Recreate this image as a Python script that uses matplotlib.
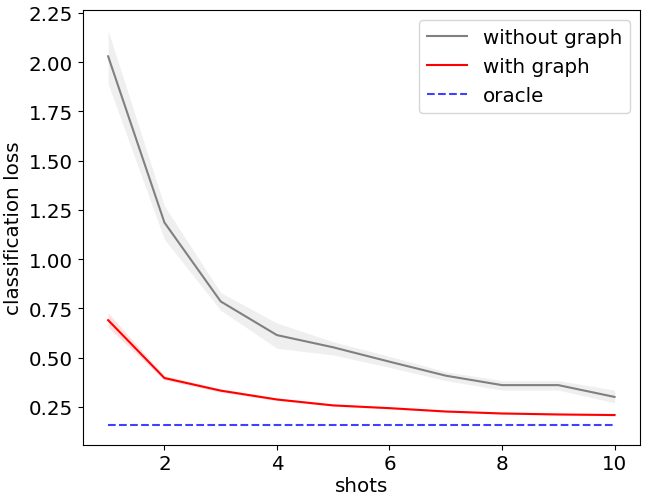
import matplotlib
matplotlib.use('Agg')
from matplotlib import pyplot as plt
from matplotlib.ticker import MultipleLocator, FormatStrFormatter

shots = [1, 2, 3, 4, 5, 6, 7, 8, 9, 10]

# without graph: mean and band
no_graph = [2.03, 1.186, 0.785, 0.614, 0.552, 0.479, 0.408, 0.360, 0.360, 0.300]
no_graph_lo = [1.89, 1.10, 0.74, 0.547, 0.513, 0.45, 0.383, 0.335, 0.335, 0.27]
no_graph_hi = [2.16, 1.27, 0.83, 0.675, 0.58, 0.506, 0.428, 0.383, 0.383, 0.335]

# with graph: mean and band
graph = [0.69, 0.396, 0.332, 0.287, 0.257, 0.243, 0.226, 0.216, 0.211, 0.208]
graph_lo = [0.653, 0.386, 0.324, 0.281, 0.252, 0.239, 0.222, 0.212, 0.207, 0.204]
graph_hi = [0.726, 0.408, 0.341, 0.294, 0.262, 0.247, 0.230, 0.220, 0.215, 0.212]

oracle = [0.159] * len(shots)

fs = 14.3

fig = plt.figure(figsize=(6.47, 5.02), dpi=100)
ax = fig.add_axes([0.128, 0.112, 0.861, 0.866])

ax.fill_between(shots, no_graph_lo, no_graph_hi, color='lightgray', alpha=0.35, linewidth=0)
ax.plot(shots, no_graph, color='gray', label='without graph')
ax.fill_between(shots, graph_lo, graph_hi, color='red', alpha=0.12, linewidth=0)
ax.plot(shots, graph, color='red', label='with graph')
ax.plot(shots, oracle, color='blue', linestyle='--', alpha=0.75, label='oracle')

ax.set_xlim(0.55, 10.45)
ax.set_ylim(0.057, 2.265)
ax.yaxis.set_major_locator(MultipleLocator(0.25))
ax.yaxis.set_major_formatter(FormatStrFormatter('%.2f'))
ax.set_xlabel('shots', fontsize=fs, labelpad=2)
ax.set_ylabel('classification loss', fontsize=fs)
ax.tick_params(labelsize=fs)
ax.legend(fontsize=fs, loc='upper right')

plt.savefig('out.png', dpi=100)
plt.close()
